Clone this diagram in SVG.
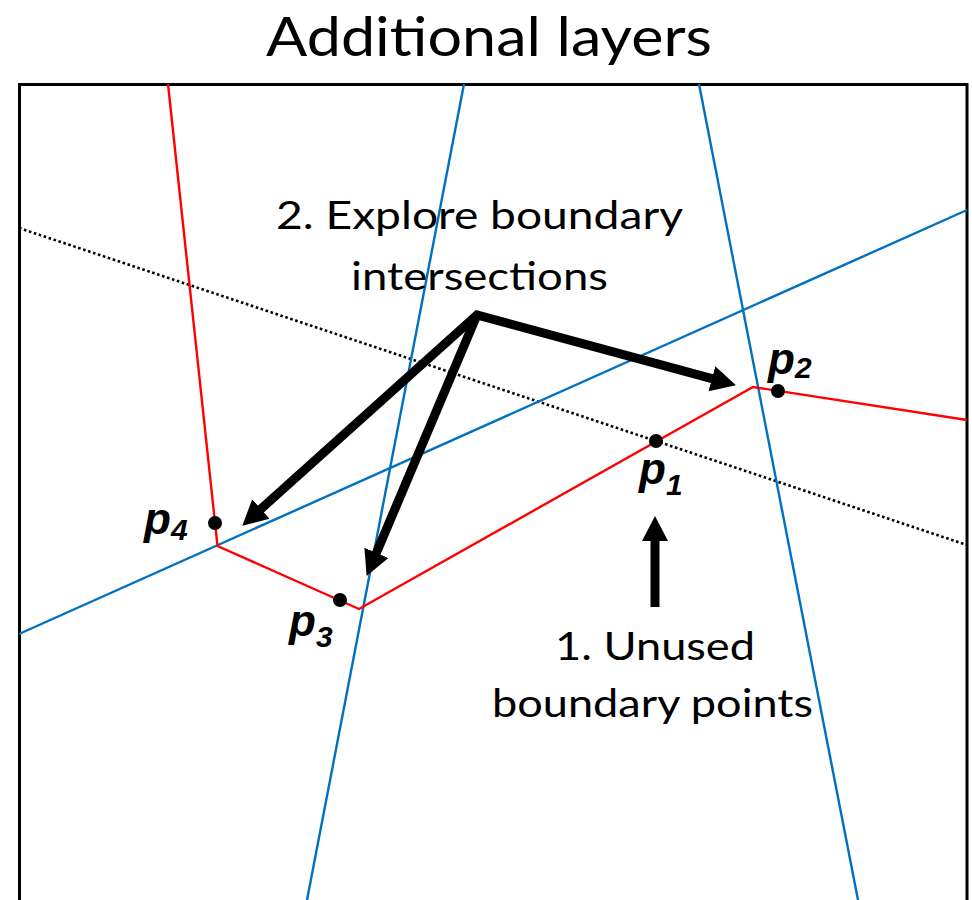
<svg xmlns="http://www.w3.org/2000/svg" width="972" height="900" viewBox="0 0 972 900">
<style>
.red{fill:none;stroke:#FF0000;stroke-width:2.4;stroke-linejoin:miter}
.blue{fill:none;stroke:#0070C0;stroke-width:2.4}
.dot{fill:none;stroke:#000;stroke-width:2.6;stroke-dasharray:2.6 2.6}
.frame{fill:none;stroke:#000;stroke-width:3}
.arrow{fill:none;stroke:#000;stroke-width:9;stroke-linejoin:miter;stroke-miterlimit:10}
.pt{fill:#000}
.txt{font-family:Lato,"Open Sans",sans-serif;fill:#000}
.lbl{font-family:"Liberation Sans",Arial,sans-serif;font-weight:bold;font-style:italic;fill:#000}
</style>
<defs>
<marker id="ah" markerUnits="userSpaceOnUse" markerWidth="30" markerHeight="30" viewBox="0 -15 30 30" refX="2" refY="0" orient="auto">
<path d="M0,-13 L25,0 L0,13 Z" fill="#000"/>
</marker>
<marker id="ahs" markerUnits="userSpaceOnUse" markerWidth="30" markerHeight="30" viewBox="0 -15 30 30" refX="2" refY="0" orient="auto-start-reverse">
<path d="M0,-13 L25,0 L0,13 Z" fill="#000"/>
</marker>
</defs>
<rect width="972" height="900" fill="#fff"/>
<text id="title" class="txt" x="266" y="56" font-size="55" textLength="446" lengthAdjust="spacingAndGlyphs">Additional layers</text>
<path id="frame" class="frame" d="M19.5,900 V84.5 H967 V900"/>
<g id="lines">
<line class="dot" x1="19" y1="228" x2="967" y2="545"/>
<line class="blue" x1="464" y1="84" x2="307" y2="900"/>
<line class="blue" x1="699" y1="84" x2="858" y2="900"/>
<line class="blue" x1="19" y1="634" x2="967" y2="210"/>
<polyline class="red" points="168,84 217.5,546 359,609 753,387 967,420"/>
</g>
<g id="connectors">
<path class="arrow" d="M259.4,510.3 L477,315 L713.8,379.2" marker-start="url(#ahs)" marker-end="url(#ah)"/>
<path class="arrow" d="M477,315 L375.6,554.7" marker-end="url(#ah)"/>
<line class="arrow" x1="655" y1="607" x2="655" y2="539" marker-end="url(#ah)"/>
</g>
<g id="p1">
<circle class="pt" cx="656" cy="441" r="7"/>
<text class="lbl" x="639" y="484" font-size="44">p<tspan font-size="30" dy="11">1</tspan></text>
</g>
<g id="p2">
<circle class="pt" cx="778" cy="391" r="7"/>
<text class="lbl" x="768" y="374" font-size="44">p<tspan font-size="30" dy="4">2</tspan></text>
</g>
<g id="p3">
<circle class="pt" cx="340" cy="600" r="7"/>
<text class="lbl" x="289" y="636" font-size="44">p<tspan font-size="30" dy="11">3</tspan></text>
</g>
<g id="p4">
<circle class="pt" cx="215" cy="523" r="7"/>
<text class="lbl" x="144" y="534" font-size="44">p<tspan font-size="30" dy="6">4</tspan></text>
</g>
<g id="label2">
<text class="txt" x="276" y="229" font-size="39" textLength="407" lengthAdjust="spacingAndGlyphs">2. Explore boundary</text>
<text class="txt" x="351" y="290" font-size="39" textLength="257" lengthAdjust="spacingAndGlyphs">intersections</text>
</g>
<g id="label1">
<text class="txt" x="555" y="660" font-size="39" textLength="200" lengthAdjust="spacingAndGlyphs">1. Unused</text>
<text class="txt" x="492" y="717" font-size="39" textLength="321" lengthAdjust="spacingAndGlyphs">boundary points</text>
</g>
</svg>
